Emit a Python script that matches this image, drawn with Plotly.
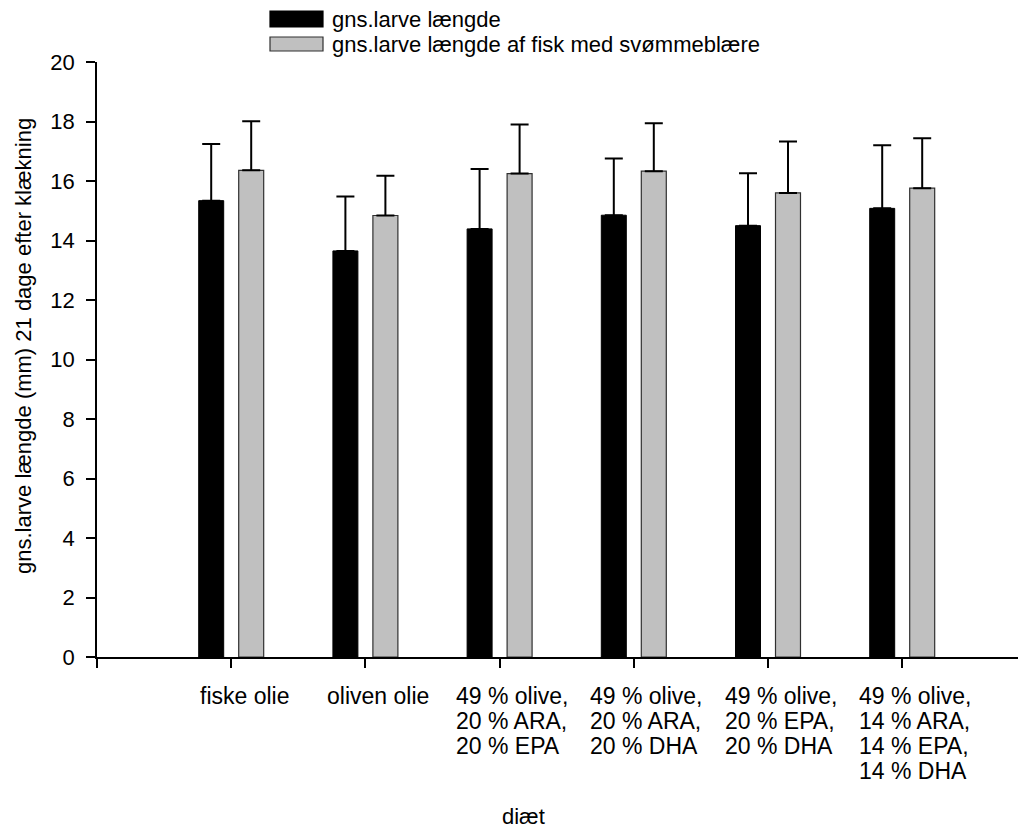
import plotly.graph_objects as go

# ---- data ----
categories = [
    "fiske olie",
    "oliven olie",
    "49 % olive,<br>20 % ARA,<br>20 % EPA",
    "49 % olive,<br>20 % ARA,<br>20 % DHA",
    "49 % olive,<br>20 % EPA,<br>20 % DHA",
    "49 % olive,<br>14 % ARA,<br>14 % EPA,<br>14 % DHA",
]
series_names = ["gns.larve længde", "gns.larve længde af fisk med svømmeblære"]
mean_all = [15.34, 13.65, 14.39, 14.85, 14.50, 15.08]
err_all = [1.90, 1.83, 2.01, 1.91, 1.76, 2.12]
mean_swim = [16.36, 14.84, 16.25, 16.33, 15.60, 15.76]
err_swim = [1.65, 1.34, 1.65, 1.61, 1.73, 1.68]
y_ticks = [0, 2, 4, 6, 8, 10, 12, 14, 16, 18, 20]
x_title = "diæt"
y_title = "gns.larve længde (mm) 21 dage efter klækning"

FONT = "Liberation Sans, Arial, sans-serif"
xpos = list(range(len(categories)))

# window geometry (the page body has an 8px margin)
OFF = 8
WIN_W, WIN_H = 1026, 829
W, H = WIN_W - OFF, WIN_H - OFF
PLOT_L, PLOT_T, PLOT_B = 97, 62, 657          # window pixel coords
L, T, B, R = PLOT_L - OFF, PLOT_T - OFF, WIN_H - PLOT_B, 0
pw, ph = W - L - R, H - T - B
def px(xp):
    return (xp - PLOT_L) / pw
def py(yp):
    return (PLOT_B - yp) / ph

fig = go.Figure()
fig.add_trace(go.Bar(
    x=xpos, y=mean_all, name=series_names[0],
    marker=dict(color="#000000", line=dict(color="#000000", width=1)),
    error_y=dict(type="data", array=err_all, arrayminus=[0] * len(err_all),
                 symmetric=False, color="#000000", thickness=2, width=9),
    showlegend=False,
))
fig.add_trace(go.Bar(
    x=xpos, y=mean_swim, name=series_names[1],
    marker=dict(color="#c0c0c0", line=dict(color="#303030", width=1.2)),
    error_y=dict(type="data", array=err_swim, arrayminus=[0] * len(err_swim),
                 symmetric=False, color="#000000", thickness=2, width=9),
    showlegend=False,
))

unit_px = 134.2
xmax = (pw / unit_px) - 1

LABEL_FS = 23
LINE_FS = 25 / 1.3   # controls the line spacing (25 px)

annotations = []
for i, lab in enumerate(categories):
    txt = "<br>".join(
        f'<span style="font-size:{LABEL_FS}px">{ln}</span>' for ln in lab.split("<br>")
    )
    annotations.append(dict(
        x=i, xref="x", y=0, yref="paper", yanchor="top", xanchor="center",
        xshift=13, yshift=-24, text=txt, align="left", showarrow=False,
        font=dict(family=FONT, size=LINE_FS, color="#000000"),
    ))
annotations.append(dict(
    x=px(523), xref="paper", y=0, yref="paper", yanchor="top", xanchor="center",
    yshift=-145, text=x_title, showarrow=False,
    font=dict(family=FONT, size=22, color="#000000"),
))
annotations.append(dict(
    x=0, xref="paper", xshift=-(PLOT_L - 23), xanchor="center",
    y=py(346), yref="paper", yanchor="middle", textangle=-90,
    text=y_title, showarrow=False,
    font=dict(family=FONT, size=22, color="#000000"),
))
# custom legend (wide swatches like the original)
legend_rows = [(11, 27, "#000000", "#000000"), (37, 51, "#c0c0c0", "#303030")]
shapes = []
for (y0, y1, fc, lc), name in zip(legend_rows, series_names):
    shapes.append(dict(type="rect", xref="paper", yref="paper",
                       x0=px(270), x1=px(323), y0=py(y1), y1=py(y0),
                       fillcolor=fc, line=dict(color=lc, width=1.2)))
    annotations.append(dict(
        x=px(330), xref="paper", xanchor="left",
        y=py((y0 + y1) / 2), yref="paper", yanchor="middle",
        text=name, showarrow=False,
        font=dict(family=FONT, size=22, color="#000000"),
    ))

fig.update_layout(
    width=W, height=H,
    margin=dict(l=L, r=R, t=T, b=B, pad=0),
    paper_bgcolor="white", plot_bgcolor="white",
    barmode="group", bargap=0.404, bargroupgap=0.375,
    font=dict(family=FONT, size=22, color="#000000"),
    annotations=annotations, shapes=shapes,
    showlegend=False,
)
fig.update_xaxes(
    range=[-1, xmax], tickvals=[-1] + xpos, showticklabels=False,
    ticks="outside", ticklen=9, tickwidth=1.5, tickcolor="#000000",
    showline=True, linecolor="#000000", linewidth=2,
    showgrid=False, zeroline=False,
)
fig.update_yaxes(
    range=[0, 20], tickvals=y_ticks, ticks="outside", ticklen=9,
    tickwidth=1.5, tickcolor="#000000", ticklabelstandoff=7,
    showline=True, linecolor="#000000", linewidth=1.5,
    showgrid=False, zeroline=False,
    tickfont=dict(family=FONT, size=22, color="#000000"),
)

fig.write_html("out.html")
